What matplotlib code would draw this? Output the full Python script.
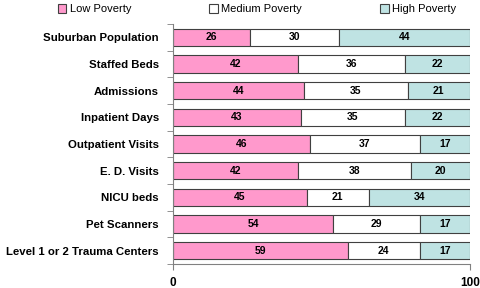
import matplotlib
matplotlib.use("Agg")
import matplotlib.pyplot as plt
import numpy as np

categories = ["Suburban Population", "Staffed Beds", "Admissions", "Inpatient Days",
              "Outpatient Visits", "E. D. Visits", "NICU beds", "Pet Scanners",
              "Level 1 or 2 Trauma Centers"]
low = [26, 42, 44, 43, 46, 42, 45, 54, 59]
medium = [30, 36, 35, 35, 37, 38, 21, 29, 24]
high = [44, 22, 21, 22, 17, 20, 34, 17, 17]
series_names = ["Low Poverty", "Medium Poverty", "High Poverty"]
colors = ["#FF99CC", "#FFFFFF", "#BFE3E3"]

plt.rcParams['font.family'] = ['Liberation Sans', 'DejaVu Sans']

fig = plt.figure(figsize=(4.8, 2.88), dpi=100)
ax = fig.add_axes([173 / 480, 24 / 288, 297 / 480, 240 / 288])

y = np.arange(len(categories))
left = np.zeros(len(categories))
handles = []
for vals, name, col in zip([low, medium, high], series_names, colors):
    bars = ax.barh(y, vals, left=left, height=0.66, color=col,
                   edgecolor="#404040", linewidth=0.8, label=name)
    handles.append(bars)
    for yi, l, v in zip(y, left, vals):
        ax.text(l + v / 2, yi, str(v), ha="center", va="center",
                fontsize=7.5, fontweight="bold",
                family=['Liberation Sans Narrow', 'Liberation Sans'])
    left += np.array(vals)

ax.set_xlim(0, 100)
ax.set_ylim(len(categories) - 0.5, -0.5)
ax.set_yticks(y)
ax.set_yticklabels(categories, fontsize=8.2, fontweight="bold")
ax.tick_params(axis="y", length=0, pad=10)
ax.set_yticks(np.arange(-0.5, len(categories), 1), minor=True)
ax.tick_params(axis="y", which="minor", length=4, color="#808080", direction="out")
ax.set_xticks([0, 100])
ax.set_xticklabels(["0", "100"], fontsize=8.5, fontweight="bold")
ax.tick_params(axis="x", length=4, color="#808080", direction="out", pad=5)
for s in ["top", "right"]:
    ax.spines[s].set_visible(False)
for s in ["left", "bottom"]:
    ax.spines[s].set_color("#808080")
    ax.spines[s].set_linewidth(0.8)

fig.legend(handles=handles, labels=series_names, loc="upper center",
           bbox_to_anchor=(0.535, 1.02), ncol=3, frameon=False, fontsize=8,
           handlelength=0.8, handleheight=0.8, columnspacing=7.0, handletextpad=0.3)

fig.savefig("out.png", dpi=100)
